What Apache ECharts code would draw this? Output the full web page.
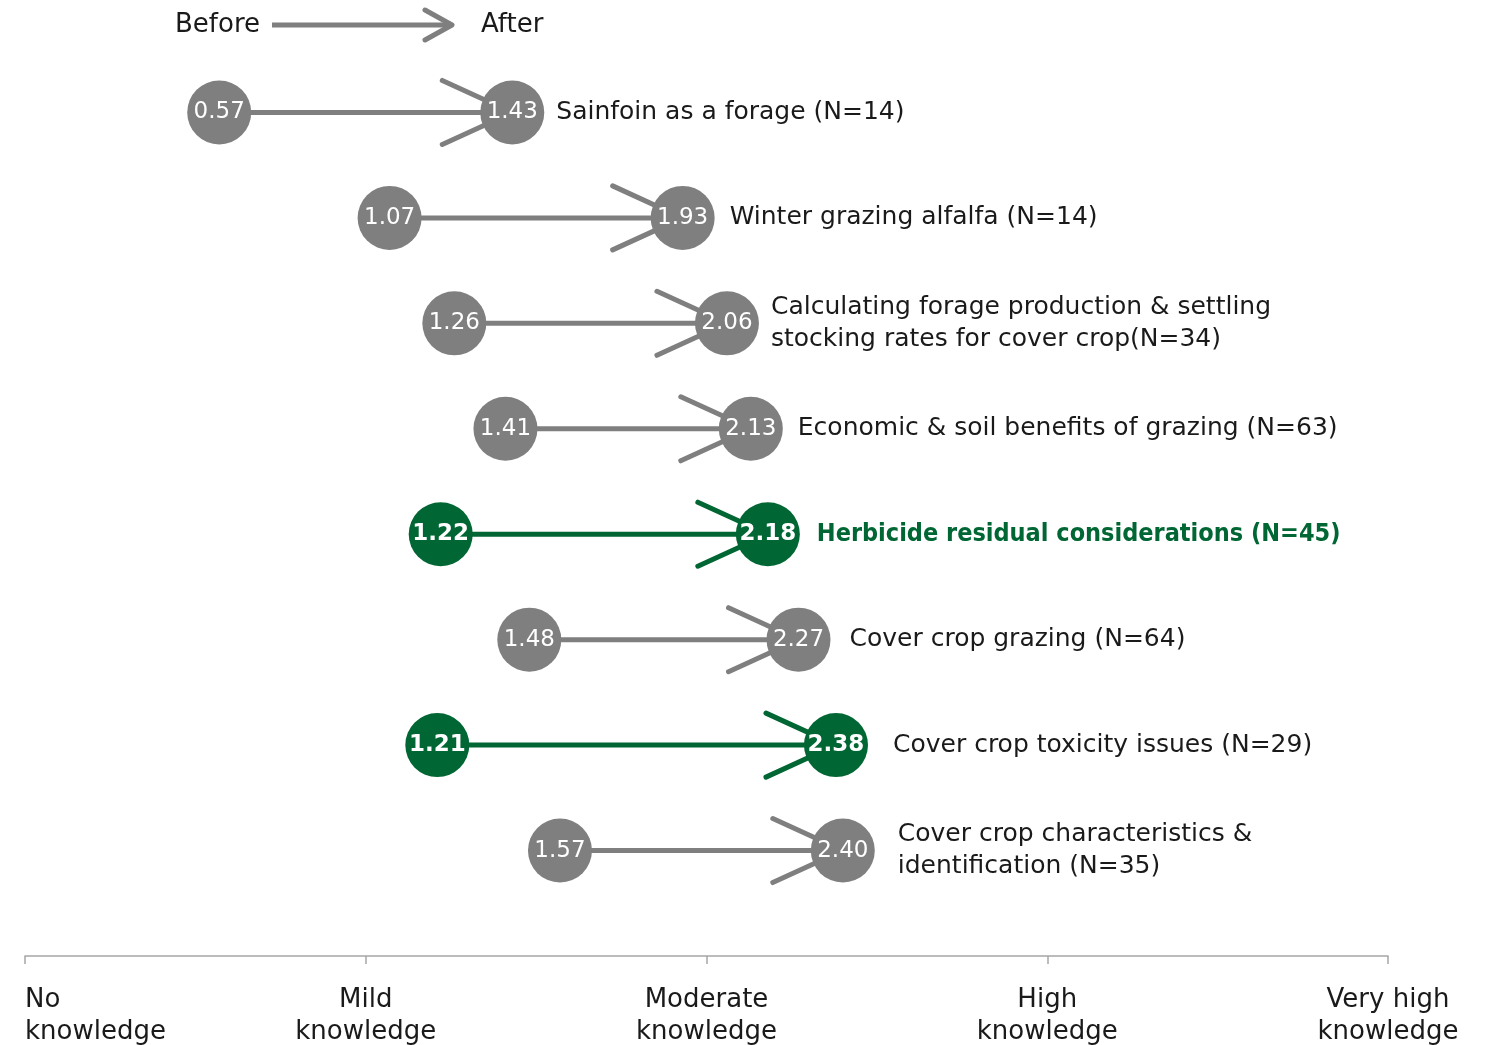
<!DOCTYPE html>
<html>
<head>
<meta charset="utf-8">
<script src="https://cdn.jsdelivr.net/npm/echarts@6/dist/echarts.min.js"></script>
<style>
  html, body { margin: 0; padding: 0; background: #fff; }
  #chart { width: 1494px; height: 1045px; }
</style>
</head>
<body>
<div id="chart"></div>
<script>
// == Data ====================================================================
const topics = [
  'Sainfoin as a forage (N=14)',
  'Winter grazing alfalfa (N=14)',
  'Calculating forage production & settling\nstocking rates for cover crop(N=34)',
  'Economic & soil benefits of grazing (N=63)',
  'Herbicide residual considerations (N=45)',
  'Cover crop grazing (N=64)',
  'Cover crop toxicity issues (N=29)',
  'Cover crop characteristics &\nidentification (N=35)'
]
const before = [0.57, 1.07, 1.26, 1.41, 1.22, 1.48, 1.21, 1.57]
const after = [1.43, 1.93, 2.06, 2.13, 2.18, 2.27, 2.38, 2.40]
const highlight = [false, false, false, false, true, false, true, false]
const tickLabels = ['No\nknowledge', 'Mild\nknowledge', 'Moderate\nknowledge', 'High\nknowledge', 'Very high\nknowledge']

// == Styles ==================================================================
const GRAY = '#7f7f7f'
const GREEN = '#006633'
const FONT = 'DejaVu Sans'
const labelGap = [12, 15, 12, 15, 17, 19, 25, 23]
const colorOf = i => (highlight[i] ? GREEN : GRAY)

const chart = echarts.init(document.getElementById('chart'))

const circle = (v, i) => ({
  value: [v, i],
  itemStyle: {color: colorOf(i), opacity: 1},
  label: {fontWeight: highlight[i] ? 'bold' : 'normal'}
})
const beforePts = before.map(circle)
const afterPts = after.map(circle)
// only the herbicide row has a green label in the original
const topicPts = after.map((v, i) => ({
  value: [v, i],
  name: topics[i],
  label: i === 4
    ? {color: GREEN, fontWeight: 'bold', fontFamily: 'DejaVu Sans Condensed', distance: labelGap[i]}
    : {color: '#1a1a1a', fontWeight: 'normal', fontFamily: FONT, distance: labelGap[i]}
}))

chart.setOption({
  animation: false,
  grid: {left: 25, right: 106, top: 7, bottom: 89, outerBoundsMode: 'none'},
  xAxis: {
    type: 'value', min: 0, max: 4, interval: 1, position: 'bottom',
    splitLine: {show: false},
    axisLine: {show: true, onZero: false, lineStyle: {color: '#a6a6a6', width: 1.5}},
    axisTick: {show: true, length: 8, lineStyle: {color: '#a6a6a6', width: 1.5}},
    axisLabel: {
      formatter: v => tickLabels[v] || '',
      color: '#1a1a1a', fontFamily: FONT, fontSize: 26, lineHeight: 32, margin: 28,
      alignMinLabel: 'left'
    }
  },
  yAxis: {type: 'value', min: -1, max: 8, inverse: true, show: false},
  graphic: [
    {type: 'text', left: 175, top: 12, style: {text: 'Before', font: '26px "DejaVu Sans"', fill: '#1a1a1a'}},
    {type: 'line', shape: {x1: 272, y1: 25, x2: 452, y2: 25}, style: {stroke: GRAY, lineWidth: 5}},
    {type: 'polyline', shape: {points: [[425, 10], [452, 25], [425, 40]]},
      style: {stroke: GRAY, lineWidth: 5, fill: null, lineCap: 'round', lineJoin: 'round'}},
    {type: 'text', left: 481, top: 12, style: {text: 'After', font: '26px "DejaVu Sans"', fill: '#1a1a1a'}}
  ],
  series: [
    {
      type: 'custom',
      z: 1,
      data: before.map((v, i) => [v, after[i], i]),
      renderItem: (params, api) => {
        const i = api.value(2)
        const p0 = api.coord([api.value(0), i])
        const p1 = api.coord([api.value(1), i])
        const c = colorOf(i)
        return {
          type: 'group',
          children: [
            {type: 'line', shape: {x1: p0[0], y1: p0[1], x2: p1[0], y2: p1[1]},
              style: {stroke: c, lineWidth: 5}},
            {type: 'polyline', shape: {points: [[p1[0] - 70, p1[1] - 32], p1, [p1[0] - 70, p1[1] + 32]]},
              style: {stroke: c, lineWidth: 5, fill: null, lineCap: 'round'}}
          ]
        }
      }
    },
    {
      type: 'scatter', z: 3, symbolSize: 64, data: beforePts,
      label: {show: true, position: 'inside', color: '#fff', fontFamily: FONT, fontSize: 23,
        formatter: p => p.value[0].toFixed(2)}
    },
    {
      type: 'scatter', z: 3, symbolSize: 64, data: afterPts,
      label: {show: true, position: 'inside', color: '#fff', fontFamily: FONT, fontSize: 23,
        formatter: p => p.value[0].toFixed(2)}
    },
    {
      type: 'scatter', z: 2, symbolSize: 64, data: topicPts,
      itemStyle: {color: 'rgba(0,0,0,0)', opacity: 1},
      label: {show: true, position: 'right', fontSize: 25,
        lineHeight: 32, formatter: p => p.name}
    }
  ]
})
</script>
</body>
</html>
